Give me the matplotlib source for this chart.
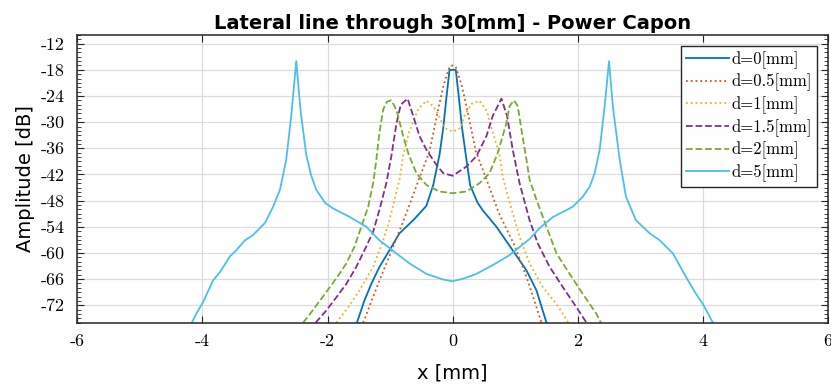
import matplotlib
matplotlib.use("Agg")
import matplotlib.pyplot as plt
from matplotlib.ticker import MultipleLocator

# values (x in mm, amplitude in dB)
x_d0 = [-1.53, -1.41, -1.30, -1.17, -1.01, -0.85, -0.63, -0.42, -0.31, -0.21, -0.15, -0.10, -0.05,
        0.05, 0.10, 0.15, 0.21, 0.28, 0.40, 0.48, 0.70, 0.96, 1.18, 1.34, 1.50]
y_d0 = [-76.0, -70.9, -67.1, -63.2, -59.4, -55.5, -52.5, -49.2, -44.4, -37.5, -31.3, -24.4, -18.0,
        -18.0, -24.4, -31.3, -37.5, -44.5, -48.5, -50.2, -54.0, -59.4, -64.0, -68.6, -76.0]

x_d05 = [-1.43, -1.17, -0.95, -0.74, -0.55, -0.37, -0.26, -0.15, -0.05, 0.0,
         0.05, 0.15, 0.26, 0.37, 0.55, 0.74, 1.00, 1.20, 1.42]
y_d05 = [-76.0, -66.3, -58.6, -50.9, -43.5, -36.7, -29.0, -21.8, -17.3, -17.0,
         -17.3, -21.8, -29.0, -36.7, -43.5, -50.9, -58.6, -66.3, -76.0]

x_d1 = [-1.86, -1.67, -1.49, -1.27, -1.11, -1.01, -0.85, -0.79, -0.70, -0.63, -0.55, -0.42, -0.32,
        -0.23, -0.13, 0.0, 0.13, 0.19, 0.30, 0.43, 0.55, 0.59, 0.75, 0.80, 0.91, 1.07, 1.23, 1.44,
        1.66, 1.85]
y_d1 = [-76.0, -72.5, -68.6, -63.2, -57.1, -52.5, -43.2, -37.5, -32.5, -29.8, -27.0, -25.1, -26.2,
        -28.2, -31.3, -32.2, -31.3, -28.5, -25.8, -25.1, -27.5, -29.8, -37.5, -42.5, -48.4, -56.3,
        -62.4, -67.8, -71.7, -76.0]

x_d15 = [-2.19, -2.02, -1.86, -1.70, -1.54, -1.41, -1.27, -1.17, -1.06, -0.98, -0.90, -0.83, -0.72,
         -0.63, -0.53, -0.42, -0.26, -0.15, 0.0, 0.22, 0.38, 0.54, 0.64, 0.78, 0.87, 0.96, 1.07,
         1.23, 1.36, 1.55, 1.76, 1.98, 2.14]
y_d15 = [-76.0, -73.2, -70.2, -67.1, -63.2, -59.4, -55.1, -50.1, -44.0, -37.8, -30.5, -26.0, -24.6,
         -28.6, -33.2, -36.3, -39.8, -41.7, -42.3, -40.2, -37.8, -33.2, -28.6, -24.6, -28.6, -36.3,
         -44.0, -52.5, -57.8, -63.2, -67.8, -72.5, -76.0]

x_d2 = [-2.39, -2.28, -2.12, -1.96, -1.81, -1.70, -1.57, -1.46, -1.35, -1.27, -1.22, -1.17, -1.11,
        -1.05, -0.98, -0.90, -0.79, -0.71, -0.58, -0.42, -0.21, 0.0, 0.22, 0.43, 0.59, 0.72, 0.86,
        0.91, 0.98, 1.04, 1.10, 1.18, 1.23, 1.34, 1.50, 1.66, 1.87, 2.08, 2.30, 2.37]
y_d2 = [-76.0, -74.0, -70.9, -67.8, -64.8, -62.4, -58.6, -54.0, -49.4, -44.0, -38.6, -32.4, -27.1,
        -25.3, -25.0, -27.1, -33.2, -37.1, -41.7, -44.4, -45.9, -46.3, -45.9, -44.0, -41.7, -37.1,
        -30.2, -26.3, -25.0, -26.3, -31.7, -38.6, -43.2, -47.8, -54.0, -60.1, -64.8, -69.4, -74.0,
        -76.0]

x_d5 = [-4.17, -4.10, -3.99, -3.90, -3.83, -3.72, -3.56, -3.46, -3.32, -3.19, -3.00, -2.87, -2.76,
        -2.66, -2.58, -2.50, -2.43, -2.34, -2.26, -2.18, -2.04, -1.91, -1.65, -1.38, -1.17, -0.90,
        -0.69, -0.42, -0.15, 0.0, 0.17, 0.38, 0.64, 0.91, 1.23, 1.39, 1.60, 1.92, 2.08, 2.19, 2.27,
        2.35, 2.43, 2.50, 2.56, 2.67, 2.77, 2.93, 3.15, 3.31, 3.52, 3.73, 3.89, 4.00, 4.16]
y_d5 = [-76.0, -74.0, -71.3, -68.5, -66.3, -64.4, -60.8, -59.4, -57.1, -55.9, -53.1, -49.4, -45.5,
        -38.6, -28.6, -16.0, -27.5, -37.5, -42.3, -45.5, -48.5, -49.8, -51.7, -54.0, -57.1, -60.1,
        -62.4, -64.8, -66.1, -66.5, -65.9, -64.8, -62.8, -60.5, -56.8, -54.3, -51.8, -49.4, -47.1,
        -44.8, -41.7, -36.3, -26.3, -16.0, -26.3, -38.6, -47.1, -52.5, -55.5, -57.1, -60.1, -65.5,
        -69.4, -71.7, -76.0]

labels = ['d=0[mm]', 'd=0.5[mm]', 'd=1[mm]', 'd=1.5[mm]', 'd=2[mm]', 'd=5[mm]']
colors = ['#0072BD', '#D95319', '#EDB120', '#7E2F8E', '#77AC30', '#4DBEEE']
styles = ['-', ':', ':', '--', '--', '-']

xticks = [-6, -4, -2, 0, 2, 4, 6]
xtick_labels = ['-6', '-4', '-2', '0', '2', '4', '6']
yticks = [-72, -66, -60, -54, -48, -42, -36, -30, -24, -18, -12]
ytick_labels = ['-72', '-66', '-60', '-54', '-48', '-42', '-36', '-30', '-24', '-18', '-12']


def main():
	plt.rcParams['axes.unicode_minus'] = False
	fig = plt.figure(figsize=(8.31, 3.90), dpi=100)
	ax = fig.add_axes([0.093, 0.1726, 0.9034, 0.7377])

	series = [(x_d0, y_d0), (x_d05, y_d05), (x_d1, y_d1), (x_d15, y_d15), (x_d2, y_d2), (x_d5, y_d5)]
	for (xs, ys), lab, col, ls in zip(series, labels, colors, styles):
		ax.plot(xs, ys, color=col, linestyle=ls, linewidth=1.3, label=lab)

	ax.set_xlim(-6, 6)
	ax.set_ylim(-76, -10)
	ax.set_xticks(xticks)
	ax.set_xticklabels(xtick_labels)
	ax.set_yticks(yticks)
	ax.set_yticklabels(ytick_labels)
	ax.yaxis.set_minor_locator(MultipleLocator(1))
	ax.tick_params(which='both', direction='in', top=True, right=True, color='#262626')
	ax.tick_params(which='major', length=5, width=0.8)
	ax.tick_params(which='minor', length=3, width=0.6)
	ax.tick_params(axis='x', which='minor', top=False, bottom=False)
	ax.tick_params(axis='x', which='major', pad=8)
	ax.tick_params(axis='y', which='major', pad=9)
	for lbl in ax.get_xticklabels() + ax.get_yticklabels():
		lbl.set_family('cmr10')
		lbl.set_fontsize(13)
	ax.grid(True, color='#dcdcdc', linewidth=0.9)
	ax.set_axisbelow(True)
	for sp in ax.spines.values():
		sp.set_color('#262626')
		sp.set_linewidth(1.1)

	# the original text is a bit wider than Arial, DejaVu gets the extent closer
	ax.set_title('Lateral line through 30[mm] - Power Capon', family='DejaVu Sans',
		fontweight='bold', fontsize=14, pad=4)
	ax.set_xlabel('x [mm]', family='DejaVu Sans', fontsize=14, labelpad=10)
	ax.set_ylabel('Amplitude [dB]', family='DejaVu Sans', fontsize=14, labelpad=4)

	leg = ax.legend(loc='upper right', prop={'family': 'cmr10', 'size': 12}, fancybox=False,
		edgecolor='#262626', framealpha=1, handlelength=2.6, handletextpad=0.15,
		labelspacing=0.3, borderpad=0.3, borderaxespad=0.65)
	leg.get_frame().set_linewidth(1.0)

	fig.savefig('out.png', dpi=100)


if __name__ == '__main__':
	main()
